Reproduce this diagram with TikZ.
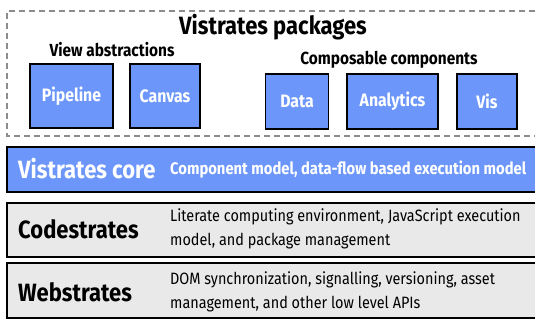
\documentclass[tikz,border=0pt]{standalone}
\usepackage{fontspec}
\setmainfont{Fira Sans}[FakeStretch=0.88]
\definecolor{vblue}{HTML}{6C96FA}
\definecolor{lgray}{HTML}{E9E9E9}
\definecolor{dgray}{HTML}{8C8C8C}
\tikzset{
  pkg/.style={draw=black, line width=1.2pt, fill=vblue, text=white, font=\bfseries\fontsize{18}{20}\selectfont},
  bar/.style={draw=black, line width=1.2pt},
  big/.style={font=\bfseries\fontsize{25}{27}\selectfont, anchor=west, inner sep=0pt},
  desc/.style={font=\fontsize{16.4}{23.5}\selectfont, anchor=west, align=left, inner sep=0pt},
  head/.style={font=\bfseries\fontsize{17.5}{19}\selectfont, inner sep=0pt}
}
\begin{document}
\begin{tikzpicture}[x=1pt,y=-1pt]
\useasboundingbox (0,0) rectangle (535,322);
\draw[dgray, line width=1.2pt, dash pattern=on 6pt off 4pt] (545,11) -- (7,11) -- (7,136) -- (545,136);
\node[font=\bfseries\fontsize{25}{27}\selectfont, inner sep=0pt] (title) at (273,27) {Vistrates packages};
\node[head] (va) at (112,50) {View abstractions};
\node[head] (cc) at (389,60) {Composable components};
\node[pkg, minimum width=83pt, minimum height=64pt] (pipe) at (71.5,96) {Pipeline};
\node[pkg, minimum width=70pt, minimum height=64pt] (canv) at (165,96) {Canvas};
\node[pkg, minimum width=63pt, minimum height=55pt] (data) at (297,101.5) {Data};
\node[pkg, minimum width=91pt, minimum height=55pt] (anal) at (392.5,101.5) {Analytics};
\node[pkg, minimum width=60pt, minimum height=55pt] (vis) at (487,101.5) {Vis};
% core
\draw[bar, fill=vblue] (545,147) -- (7,147) -- (7,192) -- (545,192);
\node[big, text=white] (core) at (18,169) {Vistrates core};
\node[desc, text=white, font=\bfseries\fontsize{16.8}{18}\selectfont] (cored) at (170,170) {Component model, data-flow based execution model};
% codestrates
\draw[bar, fill=lgray] (545,203) -- (7,203) -- (7,257) -- (545,257);
\node[big] (code) at (18,229) {Codestrates};
\node[desc] (coded) at (170,229) {Literate computing environment, JavaScript execution\\model, and package management};
% webstrates
\draw[bar, fill=lgray] (545,263) -- (7,263) -- (7,318) -- (545,318);
\node[big] (web) at (18,292) {Webstrates};
\node[desc] (webd) at (170,292) {DOM synchronization, signalling, versioning, asset\\management, and other low level APIs};
\end{tikzpicture}
\end{document}
